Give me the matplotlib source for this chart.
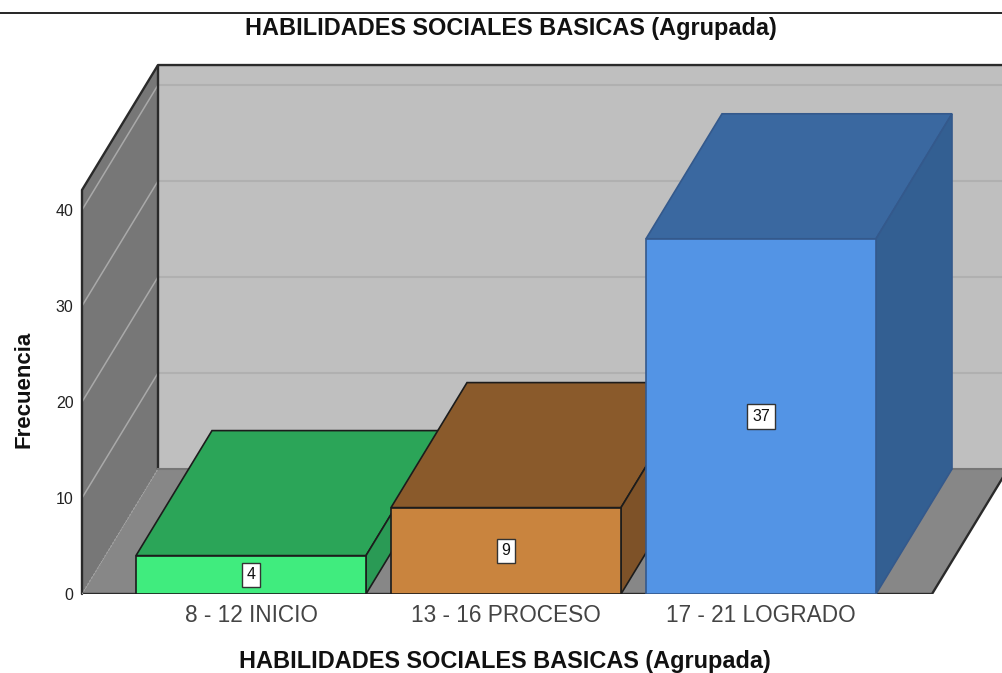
import matplotlib
matplotlib.use('Agg')
import matplotlib.pyplot as plt
from matplotlib.patches import Polygon

plt.rcParams['font.family'] = ['Liberation Sans', 'DejaVu Sans']

# data
categories = ['8 - 12 INICIO', '13 - 16 PROCESO', '17 - 21 LOGRADO']
counts = [4, 9, 37]
y_ticks = [0, 10, 20, 30, 40]
title = 'HABILIDADES SOCIALES BASICAS (Agrupada)'

# colours: front, top, side
front_cols = ['#40ec7e', '#c9843e', '#5394e5']
top_cols = ['#2ba558', '#8a5a2b', '#3a68a0']
side_cols = ['#2a9a55', '#7e5228', '#335f92']
edge_cols = ['#1c1c1c', '#1c1c1c', '#34598c']

W, H = 1003, 673
fig = plt.figure(figsize=(W / 100, H / 100), dpi=100)
fig.patch.set_facecolor('white')

# axes front plane in pixels
left, right, bottom, top = 82, 1003, 594, 65
ax = fig.add_axes([left / W, 1 - bottom / H, (right - left) / W, (bottom - top) / H])
ax.patch.set_visible(False)
for s in ax.spines.values():
    s.set_visible(False)

# one category = 255 px, one count = 9.6 px
ax.set_xlim((left - 251) / 255, (right - 251) / 255)
ax.set_ylim(0, (bottom - top) / 9.6)

bar_w = 230 / 255
dx = 76 / 255   # depth of the box
dy = 125 / 9.6
x0 = (left - 251) / 255
floor_end = (932 - 251) / 255
wall_top = 42.08
back_end = (1020 - 251) / 255

# walls and floor
ax.add_patch(Polygon([(x0, 0), (x0, wall_top), (x0 + dx, wall_top + dy), (x0 + dx, dy)],
                     facecolor='#777777', edgecolor='none', zorder=1))
ax.add_patch(Polygon([(x0 + dx, dy), (x0 + dx, wall_top + dy), (back_end, wall_top + dy), (back_end, dy)],
                     facecolor='#bfbfbf', edgecolor='none', zorder=1))
ax.add_patch(Polygon([(x0, 0), (x0 + dx, dy), (back_end, dy), (floor_end + dx, dy), (floor_end, 0)],
                     facecolor='#878787', edgecolor='none', zorder=1))

for v in y_ticks[1:]:
    ax.plot([x0, x0 + dx], [v, v + dy], color='#a9a9a9', lw=1.1, zorder=2)
    ax.plot([x0 + dx, back_end], [v + dy, v + dy], color='#b0b0b0', lw=1.5, zorder=2)

# wall outlines
line = dict(color='#2a2a2a', lw=1.7, zorder=3, solid_capstyle='round')
ax.plot([x0, x0, x0 + dx, back_end], [0, wall_top, wall_top + dy, wall_top + dy], clip_on=False, **line)
ax.plot([x0 + dx, x0 + dx], [dy, wall_top + dy], **line)
ax.plot([x0, floor_end, floor_end + dx], [0, 0, dy], **line)
ax.plot([x0 + dx, back_end], [dy, dy], color='#767676', lw=1.5, zorder=3)
ax.plot([x0, x0 + dx], [0, dy], color='#a0a0a0', lw=1, ls=':', zorder=3)

# bars, each box covers the one before it
for i, v in enumerate(counts):
    xl = i - bar_w / 2
    xr = i + bar_w / 2
    ax.add_patch(Polygon([(xl, v), (xr, v), (xr + dx, v + dy), (xl + dx, v + dy)],
                         facecolor=top_cols[i], edgecolor=edge_cols[i], lw=1.2, zorder=4 + i))
    ax.add_patch(Polygon([(xr, 0), (xr + dx, dy), (xr + dx, v + dy), (xr, v)],
                         facecolor=side_cols[i], edgecolor=edge_cols[i], lw=1.2, zorder=4 + i))
    ax.bar(i, v, width=bar_w, color=front_cols[i], edgecolor=edge_cols[i], lw=1.2, zorder=4 + i)
    ax.text(i, v / 2, str(v), ha='center', va='center', fontsize=11.5, color='#111111', zorder=10,
            bbox=dict(boxstyle='square,pad=0.3', facecolor='white', edgecolor='#333333', lw=1))

ax.set_xticks(range(len(categories)))
ax.set_xticklabels(categories, fontsize=16.3, color='#444444')
ax.set_yticks(y_ticks)
ax.tick_params(axis='x', length=0, pad=7)
ax.tick_params(axis='y', length=0, pad=6, labelsize=11.5, labelcolor='#222222')

# page rule and titles
fig.add_artist(plt.Line2D([0, 1], [1 - 12.5 / H, 1 - 12.5 / H], color='black', lw=1.2))
fig.text(511 / W, 1 - 28 / H, title, ha='center', va='center', fontsize=16.9, fontweight='bold', color='#111111')
fig.text(505 / W, 1 - 661.5 / H, title, ha='center', va='center', fontsize=16.9, fontweight='bold', color='#111111')
fig.text(24 / W, 1 - 389.5 / H, 'Frecuencia', rotation=90, ha='center', va='center', fontsize=16,
         fontweight='bold', color='#111111')

plt.savefig('out.png', dpi=100, facecolor='white')
